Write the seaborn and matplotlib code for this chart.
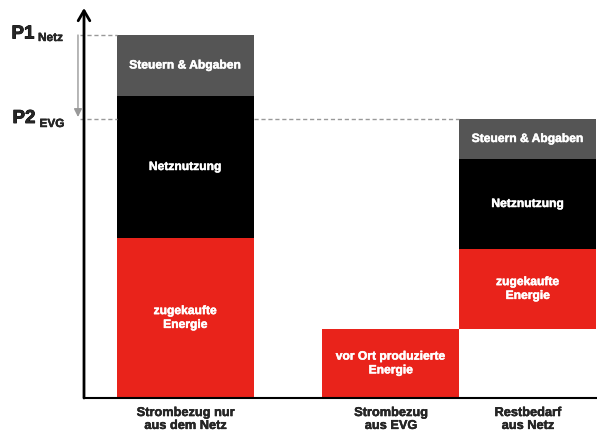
import numpy as np
import pandas as pd
import matplotlib
matplotlib.use("Agg")
import matplotlib.pyplot as plt
import matplotlib.patheffects as pe
import seaborn as sns

# ---- data ----
categories = ["Strombezug nur\naus dem Netz", "Strombezug\naus EVG", "Restbedarf\naus Netz"]
positions = [0.0, 1.5, 2.5]
energie = [160, 69, 80]          # zugekaufte / vor Ort produzierte Energie
energie_base = [0, 0, 69]        # Restbedarf starts on top of EVG share
netz = [142, 0, 90]              # Netznutzung
steuern = [61, 0, 40]            # Steuern & Abgaben
energie_labels = ["zugekaufte\nEnergie", "vor Ort produzierte\nEnergie", "zugekaufte\nEnergie"]
netz_label = "Netznutzung"
steuern_label = "Steuern & Abgaben"
p1_level = 363
p2_level = 279

RED = "#E9231B"
BLACK = "#000000"
GRAY = "#555555"

sns.set_theme(style="white")
plt.rcParams["font.family"] = ["Liberation Sans", "DejaVu Sans"]

W, H = 597, 432
fig = plt.figure(figsize=(W / 100, H / 100), dpi=100)
ax = fig.add_axes([84 / W, 34 / H, (W - 84) / W, 390 / H])

e = np.array(energie, float)
eb = np.array(energie_base, float)
n = np.array(netz, float)
s = np.array(steuern, float)
nb = eb + e
sb = nb + n

common = dict(native_scale=True, width=1.0, saturation=1, linewidth=0, errorbar=None, ax=ax)
sns.barplot(x=positions, y=e, bottom=eb, color=RED, **common)
sns.barplot(x=positions, y=n, bottom=nb, color=BLACK, **common)
sns.barplot(x=positions, y=s, bottom=sb, color=GRAY, **common)

ax.set_xlim(-0.741, 3.004)
ax.set_ylim(0, 390)

white_bold = [pe.withStroke(linewidth=0.35, foreground="white")]
black_bold = [pe.withStroke(linewidth=0.3, foreground="black")]

# labels inside bars
lab = dict(ha="center", va="center", color="white", fontsize=8.7, fontweight="bold",
           linespacing=1.2, path_effects=white_bold)
for i, x in enumerate(positions):
    if e[i] > 0:
        ax.text(x, eb[i] + e[i] / 2, energie_labels[i], **lab)
    if n[i] > 0:
        ax.text(x, nb[i] + n[i] / 2, netz_label, **lab)
    if s[i] > 0:
        ax.text(x, sb[i] + s[i] / 2, steuern_label, **lab)

# axes styling
for sp in ["left", "top", "right"]:
    ax.spines[sp].set_visible(False)
ax.spines["bottom"].set_linewidth(1.5)
ax.spines["bottom"].set_color("black")
ax.set_yticks([])
ax.set_xticks(positions)
ax.set_xticklabels(categories, fontsize=9.2, fontweight="bold", linespacing=1.1)
for t in ax.get_xticklabels():
    t.set_path_effects(black_bold)
ax.tick_params(axis="x", length=0, pad=6.5)
ax.set_xlabel("")
ax.set_ylabel("")

# y axis arrow
ax.annotate("", xy=(0, 1), xytext=(0, 0), xycoords="axes fraction",
            arrowprops=dict(arrowstyle="->,head_width=0.35,head_length=0.6", lw=2, color="black",
                            shrinkA=0, shrinkB=0), annotation_clip=False)

# dashed reference lines
dash = dict(color="#999999", lw=1, ls=(0, (3, 2)), clip_on=False)
ax.plot([-0.77, -0.5], [p1_level, p1_level], **dash)
ax.plot([-0.77, -0.5], [p2_level, p2_level], **dash)
ax.plot([0.5, 2.0], [p2_level, p2_level], **dash)

# gray arrow P1 -> P2
ax.annotate("", xy=(-0.785, p2_level + 2), xytext=(-0.785, p1_level),
            arrowprops=dict(arrowstyle="-|>,head_width=0.2,head_length=0.4", lw=1, color="#999999",
                            shrinkA=0, shrinkB=0), annotation_clip=False)

# P1 / P2 labels
def fx(px):
    return px / W

def fy(py):
    return 1 - py / H

big_bold = [pe.withStroke(linewidth=0.6, foreground="black")]
fig.text(fx(11.5), fy(38.5), "P1", fontsize=13.5, fontweight="bold", ha="left", va="baseline", path_effects=big_bold)
fig.text(fx(38), fy(41), "Netz", fontsize=8.5, fontweight="bold", ha="left", va="baseline", path_effects=black_bold)
fig.text(fx(12.5), fy(123), "P2", fontsize=13.5, fontweight="bold", ha="left", va="baseline", path_effects=big_bold)
fig.text(fx(39.5), fy(127), "EVG", fontsize=8.5, fontweight="bold", ha="left", va="baseline", path_effects=black_bold)

fig.savefig("out.png", dpi=100)
